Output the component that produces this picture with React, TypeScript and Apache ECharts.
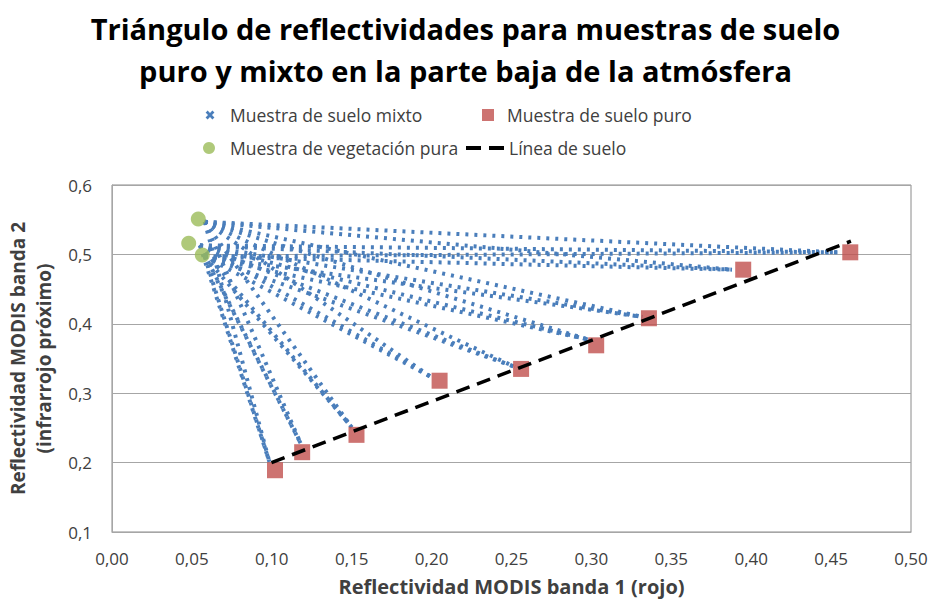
import React, { useEffect, useRef } from "react";
import * as echarts from "echarts";

// Pure vegetation samples (green circles)
const vegX = [0.054, 0.048, 0.0565];
const vegY = [0.551, 0.516, 0.499];

// Pure soil samples (red squares)
const soilX = [0.102, 0.119, 0.153, 0.205, 0.256, 0.303, 0.336, 0.395, 0.462];
const soilY = [0.189, 0.215, 0.24, 0.318, 0.335, 0.369, 0.408, 0.478, 0.503];

// Mixed-sample lines: vegetation-end and soil-end of each mixture line
const mixVegX = [0.058, 0.055, 0.058];
const mixVegY = [0.547, 0.513, 0.497];
const mixSoilX = [0.0985, 0.118, 0.15, 0.2, 0.252, 0.2986, 0.332, 0.388, 0.454];
const mixSoilY = [0.201, 0.228, 0.251, 0.323, 0.338, 0.377, 0.41, 0.478, 0.503];

// Soil line endpoints
const soilLineX = [0.0998, 0.4624];
const soilLineY = [0.2, 0.519];

const xTicks = { min: 0, max: 0.5, interval: 0.05 };
const yTicks = { min: 0.1, max: 0.6, interval: 0.1 };

const FONT = "'Open Sans', 'Noto Sans', sans-serif";
const TXT = "#404040";

export default function App() {
  const ref = useRef<HTMLDivElement>(null);
  useEffect(() => {
    if (!ref.current) return;
    const chart = echarts.init(ref.current, undefined, { renderer: "svg" });

    const mixData: any[] = [];
    for (let i = 0; i < mixSoilX.length; i++) {
      for (let j = 0; j < mixVegX.length; j++) {
        mixData.push({
          coords: [
            [mixVegX[j], mixVegY[j]],
            [mixSoilX[i], mixSoilY[i]],
          ],
        });
      }
    }

    const xIcon = "path://M0,1L1,0L5,4L9,0L10,1L6,5L10,9L9,10L5,6L1,10L0,9L4,5Z";
    const dashIcon = "path://M0,0H15V4H0Z M23,0H38V4H23Z";
    const legendText = { fontSize: 17.5, color: TXT, fontFamily: FONT };

    chart.setOption({
      animation: false,
      textStyle: { fontFamily: FONT },
      title: {
        text: "Triángulo de reflectividades para muestras de suelo\npuro y mixto en la parte baja de la atmósfera",
        left: "center",
        top: 2,
        textStyle: {
          fontSize: 29,
          fontWeight: "bold",
          color: "#000",
          lineHeight: 42,
          fontFamily: FONT,
        },
      },
      legend: [
        {
          data: [{ name: "Muestra de suelo mixto", icon: xIcon }],
          left: 206,
          top: 106,
          padding: 0,
          itemWidth: 6,
          itemHeight: 6,
          textStyle: { ...legendText, padding: [0, 0, 0, 12] },
          selectedMode: false,
        },
        {
          data: [{ name: "Muestra de suelo puro", icon: "rect" }],
          left: 482,
          top: 106,
          padding: 0,
          itemWidth: 12,
          itemHeight: 12,
          textStyle: { ...legendText, padding: [0, 0, 0, 8] },
          selectedMode: false,
        },
        {
          data: [{ name: "Muestra de vegetación pura", icon: "circle" }],
          left: 203,
          top: 139,
          padding: 0,
          itemWidth: 12,
          itemHeight: 12,
          textStyle: { ...legendText, padding: [0, 0, 0, 10] },
          selectedMode: false,
        },
        {
          data: [{ name: "Línea de suelo", icon: dashIcon }],
          left: 466,
          top: 139,
          padding: 0,
          itemWidth: 38,
          itemHeight: 4,
          textStyle: { ...legendText, padding: [0, 0, 0, 0] },
          selectedMode: false,
        },
      ],
      grid: {
        left: 112,
        right: 20,
        top: 185,
        bottom: 68,
        show: true,
        borderColor: "#8a8a8a",
        borderWidth: 1,
        outerBoundsMode: "none",
        containLabel: false,
      },
      xAxis: {
        type: "value",
        min: xTicks.min,
        max: xTicks.max,
        interval: xTicks.interval,
        name: "Reflectividad MODIS banda 1 (rojo)",
        nameLocation: "middle",
        nameGap: 44,
        nameTextStyle: { fontSize: 20, fontWeight: "bold", color: TXT, fontFamily: FONT },
        axisLine: { show: true, lineStyle: { color: "#a6a6a6" } },
        axisTick: { show: false },
        splitLine: { show: false },
        axisLabel: {
          fontSize: 17,
          color: TXT,
          margin: 18,
          fontFamily: FONT,
          formatter: (v: number) => v.toFixed(2).replace(".", ","),
        },
      },
      yAxis: {
        type: "value",
        min: yTicks.min,
        max: yTicks.max,
        interval: yTicks.interval,
        name: "Reflectividad MODIS banda 2\n(infrarrojo próximo)",
        nameLocation: "middle",
        nameRotate: 90,
        nameGap: 53,
        nameTextStyle: { fontSize: 19, fontWeight: "bold", color: TXT, lineHeight: 26, fontFamily: FONT },
        axisLine: { show: true, lineStyle: { color: "#a6a6a6" } },
        axisTick: { show: false },
        splitLine: { show: true, lineStyle: { color: "#a6a6a6" } },
        axisLabel: {
          fontSize: 17,
          color: TXT,
          margin: 20,
          fontFamily: FONT,
          formatter: (v: number) => v.toFixed(1).replace(".", ","),
        },
      },
      series: [
        {
          name: "Muestra de suelo mixto",
          type: "lines",
          coordinateSystem: "cartesian2d",
          color: "#4a7ebb",
          data: mixData,
          lineStyle: { color: "#4a7ebb", width: 4, type: [3, 6], opacity: 1 },
          z: 1,
        },
        {
          name: "Muestra de suelo puro",
          type: "scatter",
          symbol: "rect",
          symbolSize: 16,
          itemStyle: { color: "#c0504d" },
          data: soilX.map((x, i) => [x, soilY[i]]),
          z: 2,
        },
        {
          name: "Muestra de vegetación pura",
          type: "scatter",
          symbol: "circle",
          symbolSize: 15,
          itemStyle: { color: "#9bbb59" },
          data: vegX.map((x, i) => [x, vegY[i]]),
          z: 3,
        },
        {
          name: "Línea de suelo",
          type: "line",
          symbol: "none",
          color: "#000",
          lineStyle: { color: "#000", width: 3.5, type: [14, 8] },
          data: soilLineX.map((x, i) => [x, soilLineY[i]]),
          z: 4,
        },
      ],
    });
    return () => chart.dispose();
  }, []);
  return <div ref={ref} style={{ width: 931, height: 600, position: "absolute", left: 0, top: 0 }} />;
}
